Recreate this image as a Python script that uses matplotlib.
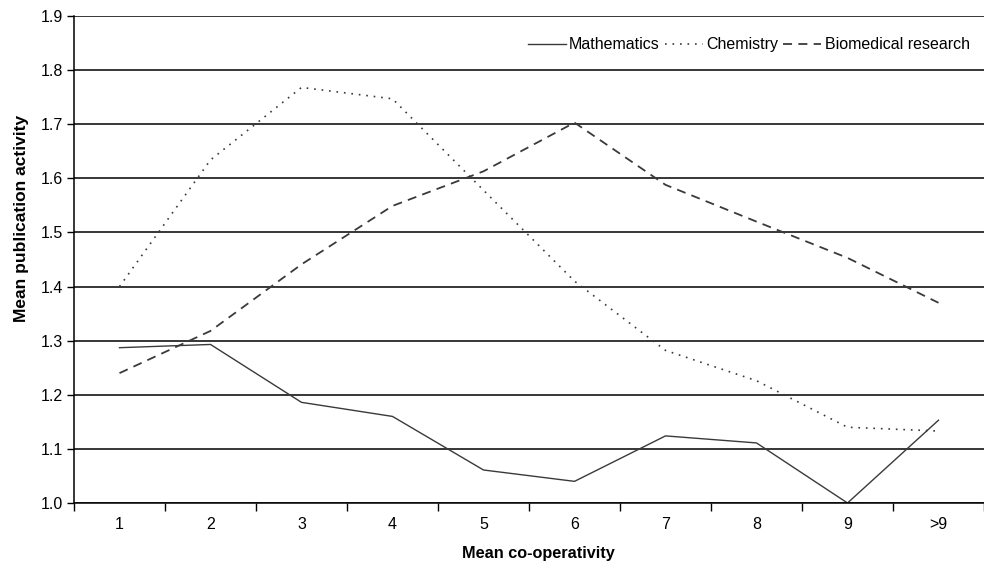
import matplotlib.pyplot as plt

categories = ["1", "2", "3", "4", "5", "6", "7", "8", "9", ">9"]
mathematics = [1.287, 1.293, 1.186, 1.160, 1.061, 1.040, 1.124, 1.111, 1.000, 1.153]
chemistry = [1.400, 1.634, 1.768, 1.747, 1.578, 1.410, 1.282, 1.226, 1.140, 1.133]
biomedical = [1.240, 1.318, 1.441, 1.549, 1.613, 1.703, 1.588, 1.520, 1.453, 1.370]

plt.rcParams['font.family'] = ['Liberation Sans', 'DejaVu Sans']

fig = plt.figure(figsize=(9.84, 5.69), dpi=100)
ax = fig.add_axes([74/984, 66/569, 1 - 74/984, (503-16)/569])

x = list(range(len(categories)))
c = '#3a3a3a'
ax.plot(x, mathematics, color=c, lw=1.0, ls='-', label='Mathematics')
ax.plot(x, chemistry, color=c, lw=1.2, ls=(0, (1, 3.5)), label='Chemistry')
ax.plot(x, biomedical, color=c, lw=1.3, ls=(0, (5, 3.5)), label='Biomedical research')

ax.set_ylim(1.0, 1.9)
ax.set_xlim(-0.5, 9.28)
ax.set_yticks([1.0 + 0.1*i for i in range(10)])
ax.set_yticklabels(["%.1f" % (1.0 + 0.1*i) for i in range(10)], fontsize=11.5)
ax.yaxis.grid(True, color='black', lw=1.1)
ax.set_axisbelow(True)

ax.set_xticks(x)
ax.set_xticklabels(categories, fontsize=11.5)
ax.set_xticks([i + 0.5 for i in range(-1, 10)], minor=True)
ax.tick_params(axis='x', which='major', length=0, pad=10)
ax.tick_params(axis='x', which='minor', length=6, width=1, direction='out')
ax.tick_params(axis='y', length=5, width=1, direction='out', pad=3)

for s in ['top', 'right']:
    ax.spines[s].set_visible(False)
ax.spines['left'].set_linewidth(1.1)
ax.spines['bottom'].set_linewidth(1.1)

ax.set_xlabel('Mean co-operativity', fontsize=11.7, fontweight='bold', labelpad=10, x=0.51)
ax.set_ylabel('Mean publication activity', fontsize=12.5, fontweight='bold', labelpad=8, y=0.585)

ax.legend(loc='upper right', bbox_to_anchor=(1.0, 0.96), bbox_transform=fig.transFigure,
          ncol=3, frameon=False, fontsize=11.5, handlelength=2.4, handletextpad=0.2,
          columnspacing=0.3)

fig.savefig('out.png', dpi=100)
